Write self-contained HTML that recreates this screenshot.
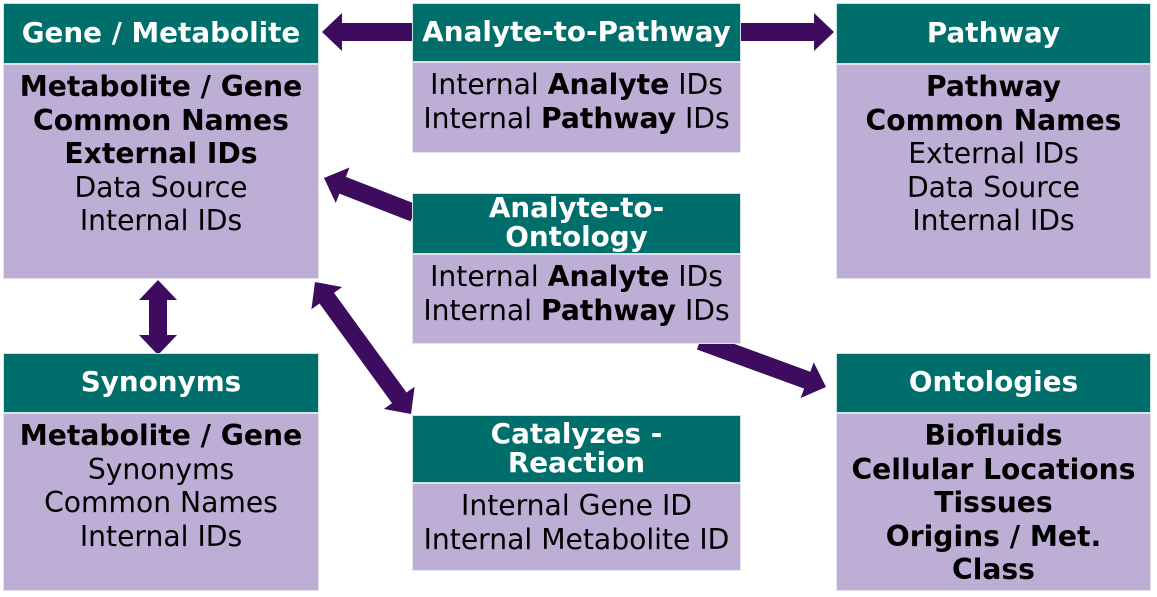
<!DOCTYPE html>
<html><head><meta charset="utf-8"><style>
body{margin:0;width:1157px;height:597px;background:#fff;position:relative;overflow:hidden;font-family:"DejaVu Sans","Liberation Sans",sans-serif;}
.h{position:absolute;background:#006f6b;color:#fff;font-weight:bold;font-size:27.8px;display:flex;align-items:center;justify-content:center;text-align:center;line-height:29px;box-shadow:0 0 0 1px #cfe3e2;white-space:nowrap;padding-bottom:3px;box-sizing:border-box;}
.b{position:absolute;background:#bcaed5;color:#000;font-size:28.2px;text-align:center;line-height:33.5px;padding-top:5px;box-sizing:border-box;box-shadow:0 0 0 1px #e6e0ef;white-space:nowrap;}
b{font-weight:bold}
svg{position:absolute;left:0;top:0}
</style></head><body>
<svg width="1157" height="597" id="s"></svg>

<div class="h" style="left:4px;top:4px;width:314px;height:59px">Gene / Metabolite</div>
<div class="b" style="left:4px;top:65px;width:314px;height:213px"><b>Metabolite / Gene<br>Common Names<br>External IDs</b><br>Data Source<br>Internal IDs</div>

<div class="h" style="left:413px;top:4px;width:327px;height:57px">Analyte-to-Pathway</div>
<div class="b" style="left:413px;top:63px;width:327px;height:89px">Internal <b>Analyte</b> IDs<br>Internal <b>Pathway</b> IDs</div>

<div class="h" style="left:837px;top:4px;width:313px;height:59px">Pathway</div>
<div class="b" style="left:837px;top:65px;width:313px;height:213px"><b>Pathway<br>Common Names</b><br>External IDs<br>Data Source<br>Internal IDs</div>

<div class="h" style="left:413px;top:194px;width:327px;height:59px">Analyte-to-<br>Ontology</div>
<div class="b" style="left:413px;top:255px;width:327px;height:88px">Internal <b>Analyte</b> IDs<br>Internal <b>Pathway</b> IDs</div>

<div class="h" style="left:4px;top:354px;width:314px;height:58px">Synonyms</div>
<div class="b" style="left:4px;top:414px;width:314px;height:176px"><b>Metabolite / Gene</b><br>Synonyms<br>Common Names<br>Internal IDs</div>

<div class="h" style="left:413px;top:416px;width:327px;height:66px">Catalyzes -<br>Reaction</div>
<div class="b" style="left:413px;top:484px;width:327px;height:86px">Internal Gene ID<br>Internal Metabolite ID</div>

<div class="h" style="left:837px;top:354px;width:313px;height:58px">Ontologies</div>
<div class="b" style="left:837px;top:414px;width:313px;height:176px"><b>Biofluids<br>Cellular Locations<br>Tissues<br>Origins / Met.<br>Class</b></div>

<script>
(function(){
var s=document.getElementById('s');
function arrow(x1,y1,x2,y2,dbl){
 var dx=x2-x1,dy=y2-y1,L=Math.hypot(dx,dy),ux=dx/L,uy=dy/L,nx=-uy,ny=ux;
 var w=9,hw=19,hl=20;
 function P(t,o){return (x1+ux*t+nx*o).toFixed(1)+','+(y1+uy*t+ny*o).toFixed(1);}
 var pts=[];
 if(dbl){pts.push(P(0,0),P(hl,hw),P(hl,w));}else{pts.push(P(0,w));}
 pts.push(P(L-hl,w),P(L-hl,hw),P(L,0),P(L-hl,-hw),P(L-hl,-w));
 if(dbl){pts.push(P(hl,-w),P(hl,-hw));}else{pts.push(P(0,-w));}
 var p=document.createElementNS('http://www.w3.org/2000/svg','polygon');
 p.setAttribute('points',pts.join(' '));p.setAttribute('fill','#3d0c5e');s.appendChild(p);
}
arrow(414,32,322,32,false);
arrow(739,32,834,32,false);
arrow(414,213,324,178,false);
arrow(700,341,826,387,false);
arrow(158,280,158,355,true);
arrow(315,282,411,414,true);
})();
</script>
</body></html>
